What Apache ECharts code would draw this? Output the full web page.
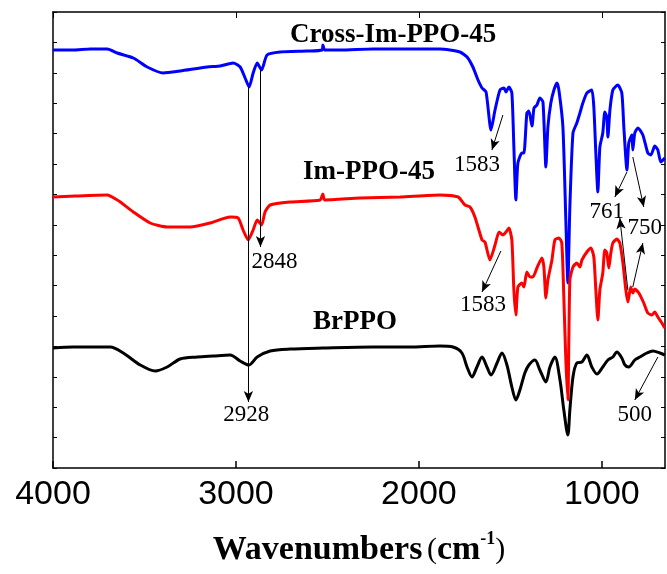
<!DOCTYPE html>
<html>
<head>
<meta charset="utf-8">
<script src="https://cdn.jsdelivr.net/npm/echarts@6/dist/echarts.min.js"></script>
<style>html,body{margin:0;padding:0;background:#fff}#c{width:667px;height:574px}</style>
</head>
<body>
<div id="c"></div>
<script>
// x tick labels (wavenumber, cm-1)
const xTicks = [1000, 2000, 3000, 4000];

// Cross-Im-PPO-45 (blue)
const blueWn = [4000,3890,3796,3703,3649,3561,3485,3398,3305,3157,3086,3015,2977,2950,2928,2906,2884,2860,2830,2759,2611,2529,2525,2515,2431,2251,2065,1885,1776,1737,1705,1677,1655,1633,1606,1584,1557,1535,1524,1508,1492,1481,1470,1459,1437,1426,1410,1399,1382,1371,1355,1339,1322,1306,1295,1279,1262,1246,1235,1213,1197,1186,1175,1158,1137,1120,1104,1082,1055,1044,1033,1022,1011,995,984,973,967,956,940,913,891,880,863,853,836,831,820,803,776,749,732,711,694,678,656];
const blueT = [418,418,419,419,415,410,401,395,397,401,402,405,401,390,381,395,405,398,413,416,417,418,423,418,418,419,419,419,416,411,401,388,380,376,338,358,378,380,376,381,375,321,268,305,315,315,355,357,342,360,363,370,366,301,341,365,378,385,378,341,248,185,261,335,345,355,365,375,378,361,315,276,321,335,356,351,331,358,378,383,375,341,298,325,333,318,335,340,333,315,313,322,318,306,310];

// Im-PPO-45 (red)
const redWn = [4000,3878,3703,3649,3632,3561,3469,3376,3250,3141,3032,2988,2961,2933,2906,2884,2860,2841,2813,2704,2540,2525,2515,2322,2103,1885,1786,1748,1721,1694,1655,1639,1612,1584,1562,1541,1524,1508,1492,1481,1470,1459,1437,1426,1410,1393,1377,1355,1328,1317,1306,1295,1273,1257,1235,1219,1208,1197,1186,1175,1158,1137,1120,1109,1082,1060,1044,1033,1022,1011,995,984,973,962,951,940,918,902,885,869,858,842,831,820,798,771,749,727,711,694,672,656];
const redT = [271,272,273,268,266,256,245,241,241,245,251,250,238,228,238,248,243,256,263,266,268,274,268,270,271,273,271,263,261,251,228,226,208,223,236,233,236,240,228,178,153,181,185,181,196,191,191,200,210,201,170,188,208,228,230,225,171,108,68,188,201,205,201,208,216,220,211,178,148,178,195,218,215,200,215,225,229,225,205,178,166,181,175,179,175,165,155,153,156,151,145,140];

// BrPPO (black)
const blackWn = [4000,3889,3687,3616,3523,3441,3376,3305,3212,3125,3032,2977,2930,2884,2813,2704,2525,2251,2049,1885,1814,1765,1737,1710,1683,1655,1628,1606,1573,1546,1519,1492,1470,1448,1421,1399,1366,1339,1306,1284,1257,1229,1208,1186,1175,1158,1137,1109,1082,1055,1027,995,967,940,918,891,874,853,820,792,754,721,683,656];
const blackT = [120,121,121,115,103,97,101,109,111,112,113,107,103,111,117,119,120,121,121,122,121,115,101,91,101,111,101,93,105,115,103,81,68,78,95,103,108,98,86,101,111,88,58,33,58,91,105,106,113,101,94,101,108,111,116,110,103,101,108,111,115,117,115,113];

// annotation arrows [fromWn, fromT, toWn, toT]
const arrows = [
  [2932,381,2932,66],
  [2866,398,2866,221],
  [1541,353,1601,318],
  [1552,217,1655,176],
  [863,296,929,271],
  [831,311,771,261],
  [858,178,902,250],
  [831,181,776,225],
  [694,111,820,68]
];
// peak labels
const peakText = ['2928','2848','1583','1583','761','750','500'];
const peakWn = [2944,2789,1683,1650,973,765,820];
const peakT = [53,206,303,163,256,240,53];
// series names
const seriesNames = ['Cross-Im-PPO-45','Im-PPO-45','BrPPO'];
const nameWn = [2141,2273,2349];
const nameT = [433,296,146];

const pairs = (a,b) => a.map((v,i)=>[v,b[i]]);
const serif = 'Liberation Serif, Times New Roman, serif';

const chart = echarts.init(document.getElementById('c'), null, {renderer:'canvas'});
const axisLine = {show:true, onZero:false, lineStyle:{color:'#000', width:1.5}};
const xBase = {type:'value', min:655, max:4000, inverse:true, splitLine:{show:false}, axisLine};
const yBase = {type:'value', min:0, max:456, interval:30.4, splitLine:{show:false}, axisLine,
  axisLabel:{show:false}, axisTick:{show:true, inside:true, length:4, lineStyle:{color:'#000', width:1}}};

chart.setOption({
  animation:false,
  grid:{left:53, right:2, top:12, bottom:106, containLabel:false},
  xAxis:[
    Object.assign({}, xBase, {position:'bottom',
      axisTick:{show:true, inside:true, length:7, customValues:xTicks, lineStyle:{color:'#000', width:1.5}},
      axisLabel:{show:true, customValues:xTicks, formatter:v=>String(v), color:'#000', fontFamily:'Liberation Sans, Arial, sans-serif', fontSize:34, margin:10},
      name:'{b|Wavenumbers}{g| }{p|(}{b|cm}{s|-1}{p|)}', nameLocation:'middle', nameGap:62,
      nameTextStyle:{rich:{
        b:{fontFamily:serif, fontWeight:'bold', fontSize:34, color:'#000', lineHeight:40},
        g:{fontFamily:serif, fontSize:18, lineHeight:40},
        p:{fontFamily:serif, fontWeight:'normal', fontSize:30, color:'#000', lineHeight:40},
        s:{fontFamily:serif, fontWeight:'bold', fontSize:18, color:'#000', verticalAlign:'top', lineHeight:18}
      }}
    }),
    Object.assign({}, xBase, {position:'top',
      axisTick:{show:true, inside:true, length:6, customValues:xTicks, lineStyle:{color:'#000', width:1}},
      axisLabel:{show:false}})
  ],
  yAxis:[
    Object.assign({}, yBase, {position:'left'}),
    Object.assign({}, yBase, {position:'right'})
  ],
  series:[
    {type:'line', name:'Cross-Im-PPO-45', data:pairs(blueWn,blueT), showSymbol:false, smooth:0.2,
      lineStyle:{color:'#0000ff', width:3}, itemStyle:{color:'#0000ff'}, z:3},
    {type:'line', name:'Im-PPO-45', data:pairs(redWn,redT), showSymbol:false, smooth:0.2,
      lineStyle:{color:'#ff0000', width:3}, itemStyle:{color:'#ff0000'}, z:4},
    {type:'line', name:'BrPPO', data:pairs(blackWn,blackT), showSymbol:false, smooth:0.3,
      lineStyle:{color:'#000', width:3}, itemStyle:{color:'#000'}, z:2,
      markLine:{silent:true, symbol:['none','arrow'], symbolSize:[7,11],
        label:{show:false}, lineStyle:{type:'solid', color:'#000', width:1},
        emphasis:{disabled:true},
        data: arrows.map(a=>[{coord:[a[0],a[1]]},{coord:[a[2],a[3]]}])},
      markPoint:{silent:true, symbol:'rect', symbolSize:1, itemStyle:{color:'transparent'},
        label:{show:true, position:'inside', color:'#000', formatter:p=>p.name},
        data: peakText.map((t,i)=>({name:t, coord:[peakWn[i],peakT[i]],
              label:{fontFamily:serif, fontSize:23, fontWeight:'normal'}}))
          .concat(seriesNames.map((t,i)=>({name:t, coord:[nameWn[i],nameT[i]],
              label:{fontFamily:serif, fontSize:27, fontWeight:'bold'}})))
      }
    }
  ]
});
</script>
</body>
</html>
